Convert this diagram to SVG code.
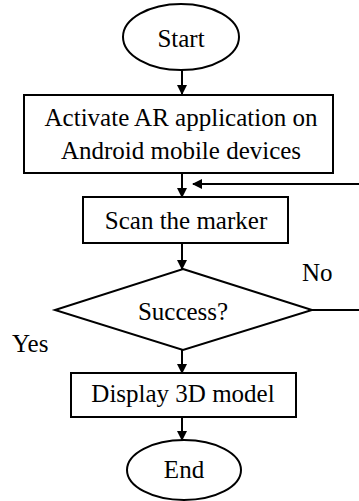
<svg xmlns="http://www.w3.org/2000/svg" width="359" height="501" viewBox="0 0 359 501">
<defs>
<marker id="ah" markerWidth="10" markerHeight="10" refX="9" refY="5" orient="auto" markerUnits="userSpaceOnUse">
<path d="M0,0 L10,5 L0,10 Z" fill="#000"/>
</marker>
</defs>
<style>
.s{fill:#fff;stroke:#000;stroke-width:2}
.t{font-family:"Liberation Serif","Times New Roman",serif;font-size:25px;fill:#000;text-anchor:middle}
.l{font-family:"Liberation Serif","Times New Roman",serif;font-size:25px;fill:#000}
.c{fill:none;stroke:#000;stroke-width:2}
</style>
<rect width="359" height="501" fill="#fff"/>
<g id="connectors">
<line class="c" x1="182" y1="70" x2="182" y2="94" marker-end="url(#ah)"/>
<line class="c" x1="182" y1="173" x2="182" y2="197" marker-end="url(#ah)"/>
<line class="c" x1="359" y1="184" x2="193" y2="184" marker-end="url(#ah)"/>
<line class="c" x1="182" y1="243" x2="182" y2="269" marker-end="url(#ah)"/>
<line class="c" x1="312" y1="310" x2="359" y2="310"/>
<line class="c" x1="182" y1="350" x2="182" y2="373" marker-end="url(#ah)"/>
<line class="c" x1="182" y1="417" x2="182" y2="440" marker-end="url(#ah)"/>
</g>
<g id="start">
<ellipse class="s" cx="181" cy="37" rx="58" ry="33"/>
<text class="t" x="181" y="47">Start</text>
</g>
<g id="activate">
<rect class="s" x="24" y="95" width="309" height="78"/>
<text class="t" x="181" y="126">Activate AR application on</text>
<text class="t" x="181" y="159">Android mobile devices</text>
</g>
<g id="scan">
<rect class="s" x="83" y="197" width="205" height="46"/>
<text class="t" x="186" y="229">Scan the marker</text>
</g>
<g id="success">
<polygon class="s" points="183,269 312,310 183,350 55,310"/>
<text class="t" x="183" y="320">Success?</text>
</g>
<text class="l" x="302" y="281">No</text>
<text class="l" x="12" y="352">Yes</text>
<g id="display">
<rect class="s" x="71" y="373" width="225" height="44"/>
<text class="t" x="183" y="402">Display 3D model</text>
</g>
<g id="end">
<ellipse class="s" cx="184" cy="470" rx="57" ry="30"/>
<text class="t" x="184" y="478">End</text>
</g>
</svg>
